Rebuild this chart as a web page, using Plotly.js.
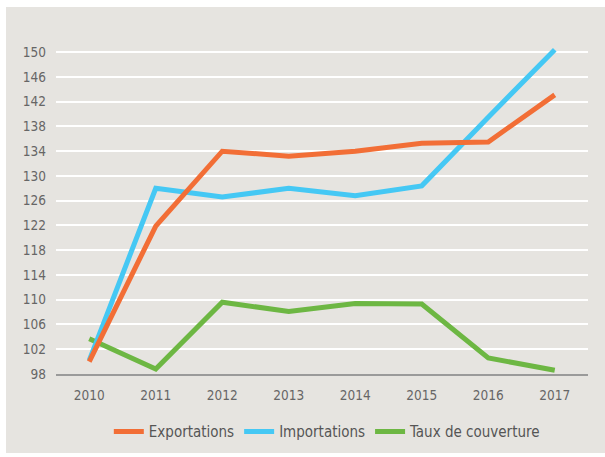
<!DOCTYPE html>
<html>
<head>
<meta charset="utf-8">
<script src="https://cdn.plot.ly/plotly-3.0.1.min.js"></script>
<style>
  html, body { margin: 0; padding: 0; background: #ffffff; }
  #bg { position: absolute; left: 6px; top: 7px; width: 599px; height: 446px; background: #e6e4e0; }
  #chart { position: absolute; left: 0; top: 0; width: 605px; height: 457px; }
</style>
</head>
<body>
<div id="bg"></div>
<div id="chart"></div>
<script>
const years = [2010, 2011, 2012, 2013, 2014, 2015, 2016, 2017];
const exportations = [100.0, 121.9, 134.0, 133.2, 134.0, 135.3, 135.5, 143.1];
const importations = [100.2, 128.0, 126.6, 128.0, 126.8, 128.4, 139.5, 150.4];
const tauxCouverture = [103.7, 98.8, 109.6, 108.1, 109.4, 109.3, 100.6, 98.6];
const seriesNames = ['Exportations', 'Importations', 'Taux de couverture'];
const yTicks = [98, 102, 106, 110, 114, 118, 122, 126, 130, 134, 138, 142, 146, 150];

const FONT = '"DejaVu Sans Condensed", "Liberation Sans Narrow", sans-serif';

const traces = [
  { x: years, y: tauxCouverture, name: seriesNames[2], type: 'scatter', mode: 'lines',
    line: { color: '#6db743', width: 5 }, legendrank: 3 },
  { x: years, y: importations, name: seriesNames[1], type: 'scatter', mode: 'lines',
    line: { color: '#45c8f4', width: 5 }, legendrank: 2 },
  { x: years, y: exportations, name: seriesNames[0], type: 'scatter', mode: 'lines',
    line: { color: '#f26e36', width: 5 }, legendrank: 1 }
];

const layout = {
  width: 605, height: 457,
  margin: { l: 56, r: 17, t: 46, b: 83, autoexpand: false },
  paper_bgcolor: 'rgba(0,0,0,0)',
  plot_bgcolor: 'rgba(0,0,0,0)',
  font: { family: FONT, color: '#666666', size: 14 },
  xaxis: {
    range: [2009.5, 2017.5],
    tickvals: years,
    ticktext: years.map(String),
    showgrid: false,
    zeroline: false,
    showline: true, linecolor: '#9a9a9a', linewidth: 2,
    ticks: '', ticklabelstandoff: 8,
    tickfont: { family: FONT, size: 13.5, color: '#666666' },
    fixedrange: true
  },
  yaxis: {
    range: [98, 151],
    tickvals: yTicks,
    ticktext: yTicks.map(String),
    showgrid: true, gridcolor: '#ffffff', gridwidth: 2,
    zeroline: false, showline: false,
    ticks: '', ticklabelstandoff: 9,
    tickfont: { family: FONT, size: 13.5, color: '#666666' },
    fixedrange: true
  },
  showlegend: true,
  legend: {
    orientation: 'h', x: 0.51, xanchor: 'center',
    yref: 'container', y: 0.055, yanchor: 'middle',
    bgcolor: 'rgba(0,0,0,0)',
    font: { family: FONT, size: 15, color: '#555555' },
    itemwidth: 30
  }
};

Plotly.newPlot('chart', traces, layout, { displayModeBar: false, staticPlot: true });
</script>
</body>
</html>
